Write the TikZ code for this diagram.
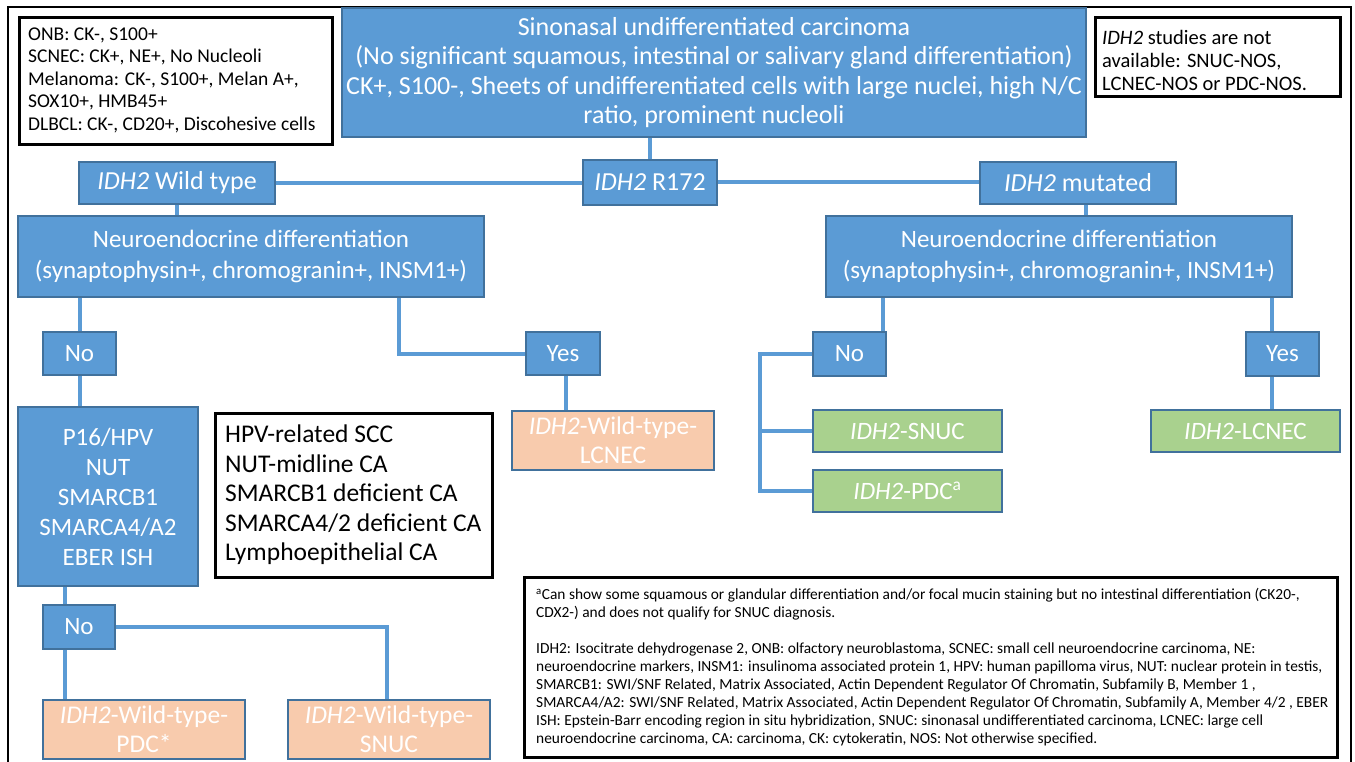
\documentclass[tikz,border=0pt]{standalone}
\usepackage{fontspec}
\setmainfont{Carlito}
\definecolor{fillblue}{RGB}{91,155,213}
\definecolor{bordblue}{RGB}{65,113,156}
\definecolor{linecol}{RGB}{91,155,213}
\definecolor{orangefill}{RGB}{248,203,173}
\definecolor{greenfill}{RGB}{169,209,142}
\newcommand\fsbig{\fontsize{26}{29.5}\selectfont}
\newcommand\fsmid{\fontsize{25}{30}\selectfont}
\newcommand\fsne{\fontsize{25}{31}\selectfont}
\newcommand\fshead{\fontsize{26}{30}\selectfont}
\newcommand\fsleaf{\fontsize{25.5}{29}\selectfont}
\newcommand\fshpv{\fontsize{25.5}{29.5}\selectfont}
\newcommand\fssm{\fontsize{19.5}{22.5}\selectfont}
\newcommand\fstr{\fontsize{20.5}{23}\selectfont}
\newcommand\fsft{\fontsize{15.4}{18}\selectfont}
\pgfdeclarelayer{bg}
\pgfsetlayers{bg,main}
\begin{document}
\begin{tikzpicture}[x=1pt,y=-1pt,
  bbox/.style={draw=bordblue, fill=fillblue, line width=1.2pt, text=white, inner sep=0pt, align=center, font=\fsmid},
  obox/.style={bbox, fill=orangefill, font=\fsleaf},
  gbox/.style={bbox, fill=greenfill},
  kbox/.style={draw=black, line width=3pt, fill=white, inner sep=0pt},
  ktext/.style={anchor=west, align=left, inner sep=0pt, text=black},
  conn/.style={draw=linecol, line width=4pt},
  sz/.style 2 args={minimum width=#1, minimum height=#2}
]
\useasboundingbox (0,0) rectangle (1355,762);
\begin{pgfonlayer}{bg}
\fill[white] (0,0) rectangle (1355,762);
\end{pgfonlayer}
\draw[black, line width=1.2pt] (8,762) -- (8,7) -- (1351,7) -- (1351,762);

% info boxes
\node[kbox, sz={313}{127}] (tl) at (175.5,81.5) {};
\node[ktext, font=\fssm] (tltext) at (28,80) {ONB: CK-, S100+\\SCNEC: CK+, NE+, No Nucleoli\\Melanoma: CK-, S100+, Melan A+,\\SOX10+, HMB45+\\DLBCL: CK-, CD20+, Discohesive cells};
\node[kbox, sz={245}{79}] (tr) at (1217.5,57.5) {};
\node[ktext, font=\fstr] (trtext) at (1102,60) {\textit{IDH2} studies are not\\available: SNUC-NOS,\\LCNEC-NOS or PDC-NOS.};

% main tree
\node[bbox, sz={744}{129}, font=\fsbig] (main) at (714,72.5) {Sinonasal undifferentiated carcinoma\\(No significant squamous, intestinal or salivary gland differentiation)\\CK+, S100-, Sheets of undifferentiated cells with large nuclei, high N/C\\ratio, prominent nucleoli};
\node[bbox, sz={196}{42}, font=\fshead] (wt) at (177,183) {\textit{IDH2} Wild type};
\node[bbox, sz={134}{45}, font=\fshead] (r172) at (650,182.5) {\textit{IDH2} R172};
\node[bbox, sz={196}{42}, font=\fshead] (mut) at (1078,183) {\textit{IDH2} mutated};
\node[bbox, sz={466}{81}, font=\fsne] (neL) at (251,256.5) {Neuroendocrine differentiation\\(synaptophysin+, chromogranin+, INSM1+)};
\node[bbox, sz={466}{81}, font=\fsne] (neR) at (1059,256.5) {Neuroendocrine differentiation\\(synaptophysin+, chromogranin+, INSM1+)};
\node[bbox, sz={73}{43}] (noL) at (79.5,353.5) {No};
\node[bbox, sz={74}{43}] (yesL) at (563,353.5) {Yes};
\node[obox, sz={202}{59}] (lcnecWT) at (613,440.5) {\textit{IDH2}-Wild-type-\\LCNEC};
\node[bbox, sz={180}{179}] (p16) at (108,496.5) {P16/HPV\\NUT\\SMARCB1\\SMARCA4/A2\\EBER ISH};
\node[kbox, sz={277}{164}] (hpv) at (353.5,495) {};
\node[ktext, font=\fshpv] (hpvtext) at (225,495) {HPV-related SCC\\NUT-midline CA\\SMARCB1 deficient CA\\SMARCA4/2 deficient CA\\Lymphoepithelial CA};
\node[bbox, sz={72}{44}] (noL2) at (79,627) {No};
\node[obox, sz={202}{59}] (pdcWT) at (144,729.5) {\textit{IDH2}-Wild-type-\\PDC*};
\node[obox, sz={202}{59}] (snucWT) at (389,729.5) {\textit{IDH2}-Wild-type-\\SNUC};
\node[bbox, sz={73}{44}] (noR) at (849.5,354) {No};
\node[bbox, sz={73}{44}] (yesR) at (1282.5,354) {Yes};
\node[gbox, sz={189}{42}] (snucG) at (907.5,431) {\textit{IDH2}-SNUC};
\node[gbox, sz={189}{42}] (pdcG) at (907.5,491) {\textit{IDH2}-PDC\textsuperscript{a}};
\node[gbox, sz={189}{42}] (lcnecG) at (1245.5,431) {\textit{IDH2}-LCNEC};

% footnote
\node[kbox, sz={813}{180}] (fn) at (930.5,667) {};
\node[ktext, font=\fsft] (fntext) at (536,667) {\textsuperscript{a}Can show some squamous or glandular differentiation and/or focal mucin staining but no intestinal differentiation (CK20-,\\CDX2-) and does not qualify for SNUC diagnosis.\\[18pt]IDH2: Isocitrate dehydrogenase 2, ONB: olfactory neuroblastoma, SCNEC: small cell neuroendocrine carcinoma, NE:\\neuroendocrine markers, INSM1: insulinoma associated protein 1, HPV: human papilloma virus, NUT: nuclear protein in testis,\\SMARCB1: SWI/SNF Related, Matrix Associated, Actin Dependent Regulator Of Chromatin, Subfamily B, Member 1 ,\\SMARCA4/A2: SWI/SNF Related, Matrix Associated, Actin Dependent Regulator Of Chromatin, Subfamily A, Member 4/2 , EBER\\ISH: Epstein-Barr encoding region in situ hybridization, SNUC: sinonasal undifferentiated carcinoma, LCNEC: large cell\\neuroendocrine carcinoma, CA: carcinoma, CK: cytokeratin, NOS: Not otherwise specified.};

\begin{pgfonlayer}{bg}
\draw[conn] (r172.north) -- (r172.north |- main.south);
\draw[conn] (wt.east) -- (wt.east -| r172.west);
\draw[conn] (r172.east) -- (r172.east -| mut.west);
\draw[conn] (wt.south) -- (wt.south |- neL.north);
\draw[conn] ([xshift=8pt]mut.south) -- ([xshift=8pt]mut.south |- neR.north);
\draw[conn] (noL.north) -- (noL.north |- neL.south);
\draw[conn] ([xshift=148pt]neL.south) |- (yesL.west);
\draw[conn] ([xshift=3pt]yesL.south) -- ([xshift=3pt]yesL.south |- lcnecWT.north);
\draw[conn] (noL.south) -- (noL.south |- p16.north);
\draw[conn] ([xshift=-14pt]noL2.north) -- ([xshift=-14pt]noL2.north |- p16.south);
\draw[conn] ([xshift=-14pt]noL2.south) -- ([xshift=-14pt]noL2.south |- pdcWT.north);
\draw[conn] (noL2.east) -| ([xshift=-2pt]snucWT.north);
\draw[conn] ([xshift=33pt]noR.north) -- ([xshift=33pt]noR.north |- neR.south);
\coordinate (brx) at (760,0);
\draw[conn] (noR.west) -| (brx |- pdcG.west) -- (pdcG.west);
\draw[conn] (snucG.west) -- (snucG.west -| brx);
\draw[conn] ([xshift=-11pt]yesR.north) -- ([xshift=-11pt]yesR.north |- neR.south);
\draw[conn] ([xshift=-11pt]yesR.south) -- ([xshift=-11pt]yesR.south |- lcnecG.north);
\end{pgfonlayer}
\end{tikzpicture}
\end{document}
